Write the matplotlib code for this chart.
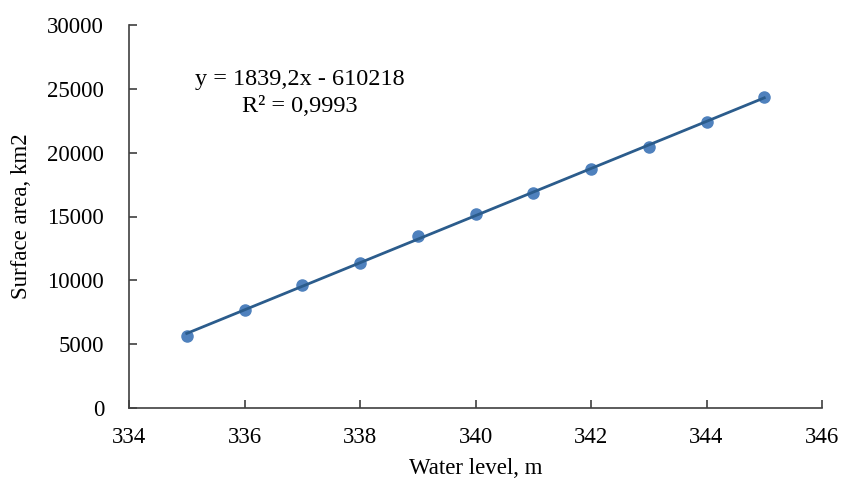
import matplotlib.pyplot as plt
import numpy as np

# water level (m) and surface area (km2)
water_level = [335, 336, 337, 338, 339, 340, 341, 342, 343, 344, 345]
surface_area = [5640, 7680, 9630, 11360, 13470, 15200, 16840, 18720, 20440, 22400, 24360]

x_ticks = [334, 336, 338, 340, 342, 344, 346]
y_ticks = [0, 5000, 10000, 15000, 20000, 25000, 30000]


def main():
    plt.rcParams['font.family'] = ['Liberation Serif', 'DejaVu Serif']
    plt.rcParams['font.size'] = 16.5

    fig = plt.figure(figsize=(8.44, 4.84), dpi=100)
    ax = fig.add_axes([129 / 844, 1 - 408 / 484, (822 - 129) / 844, (408 - 25) / 484])

    # linear trend line
    coef = np.polyfit(water_level, surface_area, 1)
    xs = np.array([water_level[0], water_level[-1]])
    ax.plot(xs, np.polyval(coef, xs), color='#2B5C8C', lw=2, zorder=3)
    ax.plot(water_level, surface_area, 'o', color='#4F81BD', ms=8, zorder=2)

    ax.text(336.95, 25700, 'y = 1839,2x - 610218', ha='center', va='center', fontsize=17.5)
    ax.text(336.95, 23600, 'R² = 0,9993', ha='center', va='center', fontsize=17.5)

    ax.set_xlim(334, 346)
    ax.set_ylim(0, 30000)
    ax.set_xticks(x_ticks)
    ax.set_yticks(y_ticks)
    ax.spines['top'].set_visible(False)
    ax.spines['right'].set_visible(False)
    for s in ['left', 'bottom']:
        ax.spines[s].set_color('#404040')
        ax.spines[s].set_linewidth(1.2)
    ax.tick_params(direction='in', length=6, width=1.2, color='#404040', labelsize=16.5)
    ax.tick_params(axis='x', pad=14)
    ax.tick_params(axis='y', pad=18)
    ax.set_xlabel('Water level, m', fontsize=16.5, labelpad=7)
    ax.set_ylabel('Surface area, km2', fontsize=16.5, labelpad=11)

    fig.savefig('out.png', dpi=100)


if __name__ == "__main__":
    main()
